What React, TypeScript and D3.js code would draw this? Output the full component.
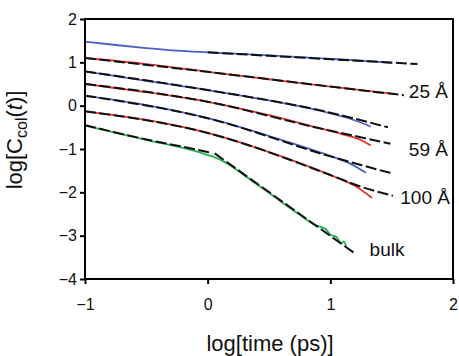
import React, { useEffect, useRef } from "react";
import * as d3 from "d3";

type Pt = [number, number];

// measured curves (log time, log C)
const blue1: Pt[] = [[-1, 1.48], [-0.75, 1.4], [-0.5, 1.33], [-0.25, 1.27], [0, 1.23], [0.5, 1.16], [1, 1.08], [1.25, 1.04], [1.5, 0.99]];
const red25: Pt[] = [[-1, 1.1], [-0.5, 0.96], [0, 0.78], [0.5, 0.61], [1, 0.44], [1.25, 0.36], [1.52, 0.27]];
const blue3: Pt[] = [[-1, 0.79], [-0.5, 0.57], [0, 0.36], [0.5, 0.12], [0.95, -0.14], [1.15, -0.29], [1.33, -0.48]];
const red59: Pt[] = [[-1, 0.5], [-0.5, 0.31], [0, 0.09], [0.5, -0.22], [0.91, -0.52], [1.1, -0.66], [1.24, -0.78], [1.33, -0.92]];
const blue5: Pt[] = [[-1, 0.23], [-0.5, 0.01], [0, -0.29], [0.5, -0.7], [1, -1.16], [1.15, -1.32], [1.29, -1.55]];
const red100: Pt[] = [[-1, -0.13], [-0.5, -0.33], [0, -0.63], [0.5, -1.07], [1, -1.6], [1.2, -1.85], [1.34, -2.13]];
const bulk: Pt[] = [[-1, -0.46], [-0.5, -0.79], [-0.065, -1.08], [0.1, -1.24], [0.2, -1.41], [0.34, -1.69], [0.48, -1.97], [0.61, -2.24], [0.75, -2.52], [0.88, -2.76], [0.96, -2.84], [1.0, -2.98], [1.05, -3.03], [1.09, -3.17], [1.11, -3.13], [1.13, -3.27]];

// dashed fits
const fit1: Pt[] = [[0, 1.23], [1.71, 0.96]];
const fit25: Pt[] = [[-1, 1.1], [0, 0.78], [1, 0.44], [1.6, 0.24]];
const fit3: Pt[] = [[-1, 0.79], [0, 0.36], [0.95, -0.13], [1.2, -0.3], [1.47, -0.5]];
const fit59: Pt[] = [[-1, 0.5], [0, 0.09], [0.91, -0.52], [1.2, -0.7], [1.49, -0.88]];
const fit5: Pt[] = [[-1, 0.23], [0, -0.29], [1, -1.17], [1.25, -1.37], [1.5, -1.56]];
const fit100: Pt[] = [[-1, -0.13], [0, -0.63], [1, -1.6], [1.25, -1.87], [1.51, -2.08]];
const fitBulkA: Pt[] = [[-1, -0.45], [-0.5, -0.78], [0, -1.07], [0.03, -1.09]];
const fitBulkB: Pt[] = [[0.057, -1.1], [1.21, -3.43]];

const xTicks = [-1, 0, 1, 2];
const yTicks = [-4, -3, -2, -1, 0, 1, 2];

const labels = [
  { text: "25 Å", x: 1.64, y: 0.17 },
  { text: "59 Å", x: 1.64, y: -1.17 },
  { text: "100 Å", x: 1.57, y: -2.28 },
  { text: "bulk", x: 1.32, y: -3.48 },
];

const BLUE = "#4b5fc4";
const RED = "#e0342c";
const GREEN = "#1fb14f";

const App = () => {
  const svgRef = useRef<SVGSVGElement>(null);

  useEffect(() => {
    const svg = d3.select(svgRef.current);
    svg.selectAll("*").remove();

    const x = d3.scaleLinear().domain([-1, 2]).range([85, 453]);
    const y = d3.scaleLinear().domain([-4, 2]).range([279, 19]);
    const font = "'Liberation Sans', Arial, sans-serif";

    const line = d3
      .line<Pt>()
      .x((d) => x(d[0]))
      .y((d) => y(d[1]))
      .curve(d3.curveMonotoneX);

    // data curves
    const data: [Pt[], string][] = [
      [blue1, BLUE], [red25, RED], [blue3, BLUE], [red59, RED],
      [blue5, BLUE], [red100, RED], [bulk, GREEN],
    ];
    data.forEach(([pts, c]) => {
      svg.append("path").attr("d", line(pts)).attr("fill", "none")
        .attr("stroke", c).attr("stroke-width", 1.8);
    });

    // fits
    [fit1, fit25, fit3, fit59, fit5, fit100, fitBulkA, fitBulkB].forEach((pts) => {
      svg.append("path").attr("d", line(pts)).attr("fill", "none")
        .attr("stroke", "#111").attr("stroke-width", 2)
        .attr("stroke-dasharray", "11,3.5");
    });

    // frame
    svg.append("rect").attr("x", 85).attr("y", 19).attr("width", 368).attr("height", 260)
      .attr("fill", "none").attr("stroke", "#000").attr("stroke-width", 2);

    const yAxis = svg.append("g").attr("transform", "translate(85,0)")
      .call(d3.axisLeft(y).tickValues(yTicks).tickSize(5).tickSizeOuter(0).tickPadding(3).tickFormat(d3.format("d")));
    const xAxis = svg.append("g").attr("transform", "translate(0,279)")
      .call(d3.axisBottom(x).tickValues(xTicks).tickSize(5).tickSizeOuter(0).tickPadding(15).tickFormat(d3.format("d")));
    [yAxis, xAxis].forEach((g) => {
      g.select(".domain").remove();
      g.selectAll("line").attr("stroke", "#000").attr("stroke-width", 2);
      g.selectAll("text").attr("fill", "#111").style("font-family", font).style("font-size", "16px");
    });
    xAxis.selectAll("text").attr("dy", "0.71em");

    // series labels
    labels.forEach((l) => {
      svg.append("text").attr("x", x(l.x)).attr("y", y(l.y)).text(l.text)
        .attr("fill", "#111").style("font-family", font).style("font-size", "19px");
    });

    // axis titles
    svg.append("text").attr("x", 270).attr("y", 351).attr("text-anchor", "middle")
      .attr("fill", "#111").style("font-family", font).style("font-size", "22px")
      .text("log[time (ps)]");

    const yt = svg.append("text").attr("transform", "translate(22,140) rotate(-90)")
      .attr("text-anchor", "middle").attr("fill", "#111")
      .style("font-family", font).style("font-size", "22px");
    yt.append("tspan").text("log[C");
    yt.append("tspan").attr("dy", 5).style("font-size", "16px").text("col");
    yt.append("tspan").attr("dy", -5).text("(");
    yt.append("tspan").style("font-style", "italic").text("t");
    yt.append("tspan").text(")]");
  }, []);

  return (
    <div style={{ position: "absolute", left: 0, top: 0 }}>
      <svg ref={svgRef} width={459} height={356} style={{ display: "block", background: "#fff" }} />
    </div>
  );
};

export default App;
